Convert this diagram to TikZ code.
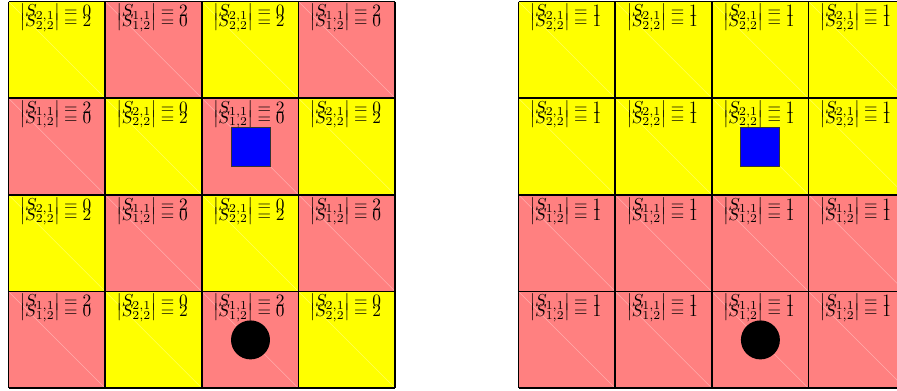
\documentclass[tikz,border=0pt]{standalone}
\definecolor{cyel}{RGB}{255,255,0}
\definecolor{cred}{RGB}{255,128,128}
\definecolor{cblue}{RGB}{0,0,255}
\tikzset{
  cellline/.style={draw=black, line width=0.9pt},
  lab/.style={anchor=base west, inner sep=0pt, scale=1.02},
  diag/.style={draw=white, opacity=0.35, line width=0.3pt},
  agent/.style={fill=cblue, draw=black!80, line width=0.5pt, minimum size=0.806cm, inner sep=0pt},
  ball/.style={fill=black, circle, minimum size=0.806cm, inner sep=0pt},
}
\begin{document}
\begin{tikzpicture}[x=0.02067cm,y=-0.02067cm]
\useasboundingbox (0,0) rectangle (897,390);
\clip (0,0) rectangle (897,390);
\def\cs{96.65}
% ---------- left grid (checkerboard) ----------
\foreach \r in {0,...,3}{
  \foreach \c in {0,...,3}{
    \pgfmathsetmacro{\xa}{8.5+\c*\cs}
    \pgfmathsetmacro{\ya}{1.5+\r*\cs}
    \pgfmathtruncatemacro{\pp}{mod(\r+\c,2)}
    \ifnum\pp=0
      \def\col{cyel}\def\ii{2}\def\va{0}\def\vb{2}
    \else
      \def\col{cred}\def\ii{1}\def\va{2}\def\vb{0}
    \fi
    \fill[\col] (\xa,\ya) rectangle ++(\cs,\cs);
    \draw[diag] (\xa,\ya) -- ++(\cs,\cs);
    \node[lab] (L\r\c a) at (\xa+11.5,\ya+15.2) {$|S_{\ii,1}| = \va$};
    \node[lab] (L\r\c b) at (\xa+11.5,\ya+25.2) {$|S_{\ii,2}| = \vb$};
  }
}
% ---------- right grid ----------
\foreach \r in {0,...,3}{
  \foreach \c in {0,...,3}{
    \pgfmathsetmacro{\xa}{518.5+\c*\cs}
    \pgfmathsetmacro{\ya}{1.5+\r*\cs}
    \ifnum\r<2
      \def\col{cyel}\def\ii{2}
    \else
      \def\col{cred}\def\ii{1}
    \fi
    \fill[\col] (\xa,\ya) rectangle ++(\cs,\cs);
    \draw[diag] (\xa,\ya) -- ++(\cs,\cs);
    \node[lab] (R\r\c a) at (\xa+11.5,\ya+15.2) {$|S_{\ii,1}| = 1$};
    \node[lab] (R\r\c b) at (\xa+11.5,\ya+25.2) {$|S_{\ii,2}| = 1$};
  }
}
% ---------- grid lines ----------
\foreach \i in {0,...,4}{
  \pgfmathsetmacro{\pa}{8.5+\i*\cs}
  \pgfmathsetmacro{\pb}{1.5+\i*\cs}
  \pgfmathsetmacro{\pc}{518.5+\i*\cs}
  \draw[cellline] (\pa,1.5) -- (\pa,388.1);
  \draw[cellline] (8.5,\pb) -- (395.1,\pb);
  \draw[cellline] (\pc,1.5) -- (\pc,388.1);
  \draw[cellline] (518.5,\pb) -- (905.1,\pb);
}
% ---------- agents and balls ----------
\node[agent] (sqL) at (250.5,146.6) {};
\node[ball] (ballL) at (250.5,339.9) {};
\node[agent] (sqR) at (760.4,146.6) {};
\node[ball] (ballR) at (760.4,339.9) {};
\end{tikzpicture}
\end{document}
